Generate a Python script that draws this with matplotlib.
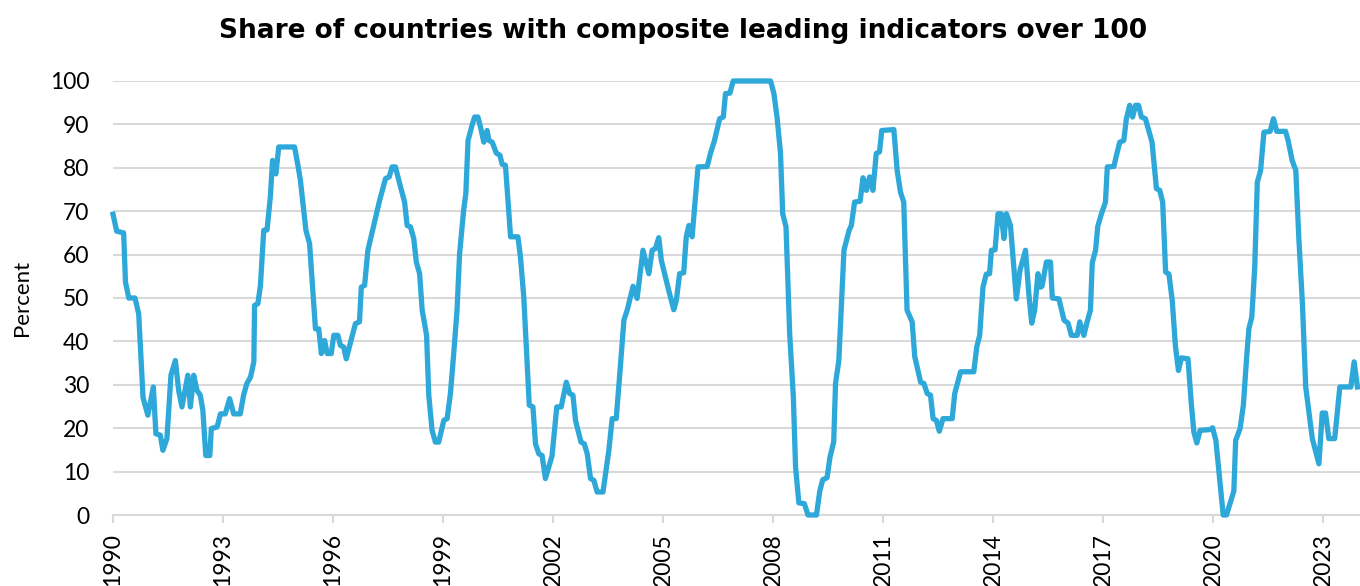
import matplotlib
matplotlib.use("Agg")
import matplotlib.pyplot as plt

# share of countries with CLI > 100 (decimal year, percent)
years = [
    1990.00, 1990.10, 1990.29, 1990.34, 1990.43, 1990.60, 1990.70, 1990.82, 1990.95, 1991.10,
    1991.17, 1991.29, 1991.36, 1991.47, 1991.58, 1991.70, 1991.79, 1991.88, 1992.04, 1992.11,
    1992.20, 1992.29, 1992.38, 1992.45, 1992.53, 1992.64, 1992.68, 1992.84, 1992.93, 1993.06,
    1993.18, 1993.29, 1993.47, 1993.56, 1993.65, 1993.75, 1993.84, 1993.86, 1993.95, 1994.02,
    1994.11, 1994.20, 1994.29, 1994.35, 1994.44, 1994.52, 1994.95, 1995.05, 1995.11, 1995.26,
    1995.36, 1995.52, 1995.61, 1995.68, 1995.77, 1995.84, 1995.95, 1996.02, 1996.13, 1996.20,
    1996.29, 1996.36, 1996.61, 1996.72, 1996.77, 1996.86, 1996.95, 1997.11, 1997.27, 1997.43,
    1997.53, 1997.61, 1997.70, 1997.84, 1997.95, 1998.02, 1998.11, 1998.20, 1998.27, 1998.36,
    1998.43, 1998.55, 1998.61, 1998.70, 1998.79, 1998.88, 1999.02, 1999.11, 1999.20, 1999.29,
    1999.38, 1999.45, 1999.56, 1999.62, 1999.68, 1999.79, 1999.86, 1999.95, 2000.02, 2000.11,
    2000.20, 2000.25, 2000.34, 2000.45, 2000.55, 2000.61, 2000.70, 2000.84, 2001.04, 2001.11,
    2001.20, 2001.35, 2001.45, 2001.52, 2001.61, 2001.70, 2001.79, 2001.97, 2002.10, 2002.22,
    2002.36, 2002.45, 2002.54, 2002.61, 2002.76, 2002.85, 2002.93, 2003.02, 2003.11, 2003.20,
    2003.36, 2003.52, 2003.61, 2003.72, 2003.84, 2003.93, 2004.02, 2004.18, 2004.29, 2004.45,
    2004.61, 2004.70, 2004.79, 2004.88, 2004.95, 2005.15, 2005.29, 2005.36, 2005.45, 2005.56,
    2005.63, 2005.70, 2005.79, 2005.85, 2005.95, 2006.20, 2006.29, 2006.40, 2006.54, 2006.64,
    2006.70, 2006.82, 2006.91, 2007.93, 2008.02, 2008.11, 2008.20, 2008.26, 2008.35, 2008.45,
    2008.55, 2008.61, 2008.70, 2008.85, 2008.95, 2009.18, 2009.27, 2009.35, 2009.47, 2009.55,
    2009.65, 2009.70, 2009.79, 2009.93, 2010.07, 2010.13, 2010.22, 2010.37, 2010.45, 2010.54,
    2010.63, 2010.72, 2010.81, 2010.90, 2010.96, 2011.29, 2011.38, 2011.47, 2011.56, 2011.65,
    2011.79, 2011.86, 2012.02, 2012.11, 2012.20, 2012.29, 2012.36, 2012.45, 2012.53, 2012.63,
    2012.88, 2012.95, 2013.11, 2013.47, 2013.55, 2013.63, 2013.72, 2013.81, 2013.90, 2013.95,
    2014.05, 2014.13, 2014.22, 2014.29, 2014.36, 2014.47, 2014.55, 2014.63, 2014.73, 2014.88,
    2014.97, 2015.05, 2015.13, 2015.22, 2015.29, 2015.33, 2015.45, 2015.56, 2015.61, 2015.79,
    2015.93, 2016.04, 2016.13, 2016.29, 2016.36, 2016.47, 2016.56, 2016.65, 2016.70, 2016.79,
    2016.85, 2016.95, 2017.06, 2017.11, 2017.29, 2017.36, 2017.45, 2017.56, 2017.63, 2017.72,
    2017.80, 2017.88, 2017.96, 2018.04, 2018.15, 2018.24, 2018.33, 2018.45, 2018.54, 2018.62,
    2018.70, 2018.79, 2018.88, 2018.97, 2019.05, 2019.13, 2019.31, 2019.40, 2019.47, 2019.55,
    2019.64, 2019.93, 2019.98, 2020.07, 2020.27, 2020.36, 2020.56, 2020.61, 2020.73, 2020.82,
    2020.91, 2020.97, 2021.05, 2021.13, 2021.20, 2021.29, 2021.38, 2021.55, 2021.64, 2021.73,
    2021.97, 2022.04, 2022.15, 2022.25, 2022.33, 2022.43, 2022.52, 2022.70, 2022.88, 2022.97,
    2023.06, 2023.15, 2023.31, 2023.45, 2023.75, 2023.84, 2023.93,
]
share = [
    69.3, 65.4, 65.0, 53.7, 50.0, 50.0, 46.4, 27.0, 23.0, 29.5,
    18.7, 18.4, 14.9, 17.6, 32.2, 35.6, 28.7, 24.9, 32.2, 24.9,
    32.2, 28.7, 27.6, 24.1, 13.7, 13.7, 19.9, 20.3, 23.3, 23.3,
    26.8, 23.3, 23.3, 27.6, 30.3, 31.8, 35.3, 48.3, 48.7, 52.9,
    65.6, 65.7, 73.3, 81.7, 78.6, 84.8, 84.8, 80.2, 77.1, 65.6,
    62.5, 42.9, 42.9, 37.2, 40.2, 37.2, 37.2, 41.4, 41.4, 39.1,
    38.7, 36.0, 44.1, 44.5, 52.5, 52.9, 61.0, 66.7, 72.5, 77.5,
    77.9, 80.2, 80.2, 75.6, 72.1, 66.7, 66.4, 63.7, 58.3, 55.6,
    47.2, 41.4, 27.6, 19.5, 16.8, 16.8, 21.8, 22.2, 28.0, 37.2,
    47.2, 60.2, 70.2, 74.0, 86.3, 89.8, 91.7, 91.7, 89.4, 85.9,
    88.6, 86.3, 85.9, 83.4, 82.9, 80.8, 80.6, 64.1, 64.1, 59.4,
    50.2, 25.3, 24.9, 16.4, 14.1, 13.7, 8.4, 13.6, 24.9, 24.9,
    30.6, 28.0, 27.6, 21.8, 16.8, 16.4, 14.1, 8.4, 8.0, 5.3,
    5.3, 14.9, 22.2, 22.2, 34.9, 44.9, 47.2, 52.7, 49.9, 61.0,
    55.6, 61.0, 61.4, 63.9, 58.7, 51.8, 47.3, 49.5, 55.6, 55.8,
    64.1, 66.7, 64.1, 70.2, 80.2, 80.3, 83.3, 86.3, 91.3, 91.7,
    97.1, 97.2, 100.0, 100.0, 97.1, 91.3, 83.3, 69.4, 66.4, 41.8,
    27.2, 11.1, 2.8, 2.6, 0.0, 0.0, 5.5, 8.1, 8.6, 13.4,
    16.8, 30.3, 35.6, 61.0, 65.6, 66.7, 72.1, 72.3, 77.7, 74.8,
    77.9, 74.8, 83.3, 83.7, 88.6, 88.8, 79.4, 74.4, 72.1, 47.2,
    44.5, 36.5, 30.6, 30.3, 28.0, 27.6, 22.2, 21.8, 19.3, 22.2,
    22.2, 28.0, 33.0, 33.0, 38.7, 41.4, 52.5, 55.5, 55.6, 61.0,
    61.1, 69.4, 69.4, 63.7, 69.4, 66.7, 58.3, 49.8, 56.4, 61.0,
    51.0, 44.2, 47.2, 55.6, 52.5, 52.7, 58.3, 58.3, 50.0, 49.8,
    44.9, 44.2, 41.4, 41.4, 44.5, 41.4, 44.5, 47.2, 58.1, 61.0,
    66.5, 69.4, 72.1, 80.2, 80.3, 82.9, 85.9, 86.3, 91.3, 94.4,
    91.7, 94.4, 94.4, 91.7, 91.3, 88.6, 85.9, 75.2, 74.8, 72.1,
    56.0, 55.5, 49.5, 38.7, 33.3, 36.2, 36.0, 25.7, 19.1, 16.6,
    19.5, 19.7, 20.1, 17.2, 0.0, 0.0, 5.5, 17.2, 19.9, 25.3,
    36.4, 42.9, 45.6, 57.1, 76.7, 79.4, 88.2, 88.4, 91.3, 88.4,
    88.4, 86.3, 81.7, 79.4, 64.1, 48.7, 29.5, 17.6, 11.8, 23.5,
    23.5, 17.6, 17.6, 29.5, 29.5, 35.3, 29.5,
]
xticks = list(range(1990, 2024, 3))
yticks = list(range(0, 101, 10))

grid_col = '#d9d9d9'
line_col = '#2ea8d9'

fig = plt.figure(figsize=(13.6, 5.86), dpi=100)
ax = fig.add_axes([113/1360, 71/586, 1 - 113/1360, 434/586])

ax.plot(years, share, color=line_col, lw=3.8, solid_joinstyle='round', clip_on=False, zorder=3)

ax.set_xlim(1990, 2024)
ax.set_ylim(0, 100)
ax.set_yticks(yticks)
ax.set_xticks(xticks)
ax.set_xticklabels([str(y) for y in xticks], rotation=90, family='Lato', fontsize=16.5)
ax.set_yticklabels([str(v) for v in yticks], family='Lato', fontsize=16.5)
ax.yaxis.grid(True, color=grid_col, lw=1.5)
ax.set_axisbelow(True)
for s in ['top', 'right', 'left']:
    ax.spines[s].set_visible(False)
ax.spines['bottom'].set_color(grid_col)
ax.spines['bottom'].set_linewidth(1.5)
ax.tick_params(axis='y', length=0, pad=17)
ax.tick_params(axis='x', length=6, width=1.5, color=grid_col, pad=7)

ax.set_ylabel('Percent', family='Lato', fontsize=16, labelpad=13)
fig.text(0.502, 0.947, 'Share of countries with composite leading indicators over 100',
         ha='center', va='center', fontsize=19, fontweight='bold', family='DejaVu Sans')

fig.savefig('out.png', dpi=100)
